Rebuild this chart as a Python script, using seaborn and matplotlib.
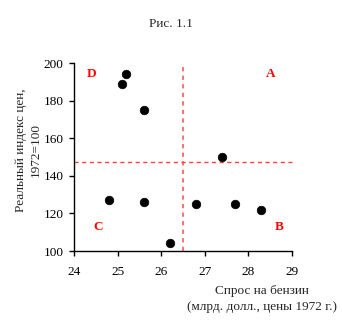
import matplotlib
matplotlib.use("Agg")
import matplotlib.pyplot as plt
import seaborn as sns
import pandas as pd

# Gasoline demand vs. real price index
demand = [25.1, 25.2, 25.6, 27.4, 24.8, 25.6, 26.2, 26.8, 27.7, 28.3]
price = [189, 194, 175, 150, 127, 126, 104, 125, 125, 122]

# Quadrant split lines and labels
x_split = 26.5
y_split = 147.5
quad_labels = ["D", "A", "C", "B"]
quad_x = [24.4, 28.5, 24.55, 28.7]
quad_y = [194, 194, 113, 113]

x_ticks = [24, 25, 26, 27, 28, 29]
y_ticks = [100, 120, 140, 160, 180, 200]

sns.set_style("ticks")
plt.rcParams["font.family"] = ["Liberation Serif", "DejaVu Serif"]

df = pd.DataFrame({"demand": demand, "price": price})

fig = plt.figure(figsize=(3.42, 3.26), dpi=100)
ax = fig.add_axes([0.2164, 0.23, 0.6374, 0.5767])

sns.scatterplot(data=df, x="demand", y="price", ax=ax, color="black",
                s=38, edgecolor="black", linewidth=0.5, zorder=3)

ax.axvline(x_split, ymin=0, ymax=0.98, color="#ff7070", ls=(0, (2.2, 2.2)), lw=1.4)
ax.axhline(y_split, xmin=0, xmax=1.01, color="#ff4040", ls=(0, (3, 2.5)), lw=1.0,
           clip_on=False)

for t, qx, qy in zip(quad_labels, quad_x, quad_y):
    ax.text(qx, qy, t, color="red", fontweight="bold", fontsize=9.5,
            ha="center", va="center")

ax.set_xlim(24, 29)
ax.set_ylim(100, 200)
ax.set_xticks(x_ticks)
ax.set_yticks(y_ticks)
ax.tick_params(direction="out", length=3.5, width=1, colors="black", labelsize=9.5)
ax.tick_params(axis="x", pad=7)
ax.tick_params(axis="y", pad=4)
for sp in ["left", "bottom"]:
    ax.spines[sp].set_linewidth(1.0)
    ax.spines[sp].set_color("black")
sns.despine(ax=ax)

ax.set_xlabel("")
ax.set_ylabel("")
fig.text(0.083, 0.54, "Реальный индекс цен,\n1972=100", rotation=90,
         ha="center", va="center", fontsize=9.5, linespacing=1.35)
fig.text(0.766, 0.083, "Спрос на бензин\n(млрд. долл., цены 1972 г.)",
         ha="center", va="center", fontsize=9.5, linespacing=1.35)
fig.text(0.5, 0.926, "Рис. 1.1", ha="center", va="center", fontsize=9.5)

fig.savefig("out.png", dpi=100, facecolor="white")
